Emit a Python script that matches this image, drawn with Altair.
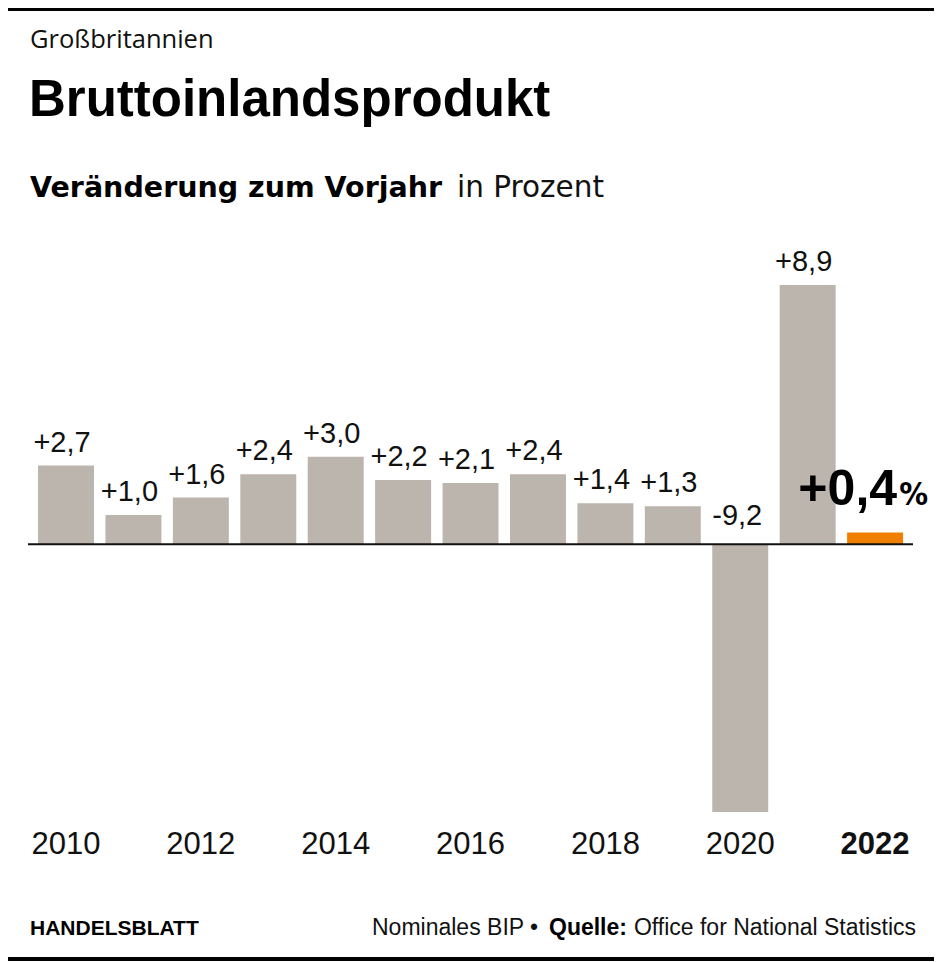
import altair as alt
import pandas as pd

# ---------------- data ----------------
years = ["2010", "2011", "2012", "2013", "2014", "2015", "2016",
         "2017", "2018", "2019", "2020", "2021", "2022"]
values = [2.7, 1.0, 1.6, 2.4, 3.0, 2.2, 2.1, 2.4, 1.4, 1.3, -9.2, 8.9, 0.4]
highlight_year = "2022"

kicker = "Großbritannien"
title = "Bruttoinlandsprodukt"
subtitle_bold = "Veränderung zum Vorjahr"
subtitle_regular = "in Prozent"
footer_left = "HANDELSBLATT"
footer_note = "Nominales BIP •"
footer_source_label = "Quelle:"
footer_source = "Office for National Statistics"
percent_sign = "%"

# ---------------- style ----------------
GREY = "#bcb5ae"
ORANGE = "#f07f00"
INK = "#111111"
SANS = "Liberation Sans, Arial, sans-serif"
COND = "DejaVu Sans Condensed, DejaVu Sans, sans-serif"
OPEN = "Open Sans, Liberation Sans, sans-serif"
DEJA = "DejaVu Sans, sans-serif"

W, H = 926, 954

df = pd.DataFrame({"year": years, "value": values})
one = pd.DataFrame({"k": [0]})

x_scale = alt.Scale(domain=years, range=[24.3, 900.8], paddingInner=0.17,
                    paddingOuter=0.085, round=False)
y_scale = alt.Scale(domain=[-9.2, 8.9], range=[804, 277], nice=False, zero=False, round=False)

x_axis = alt.Axis(
    title=None, domain=False, ticks=False, tickSize=0, grid=False,
    labelPadding=0, offset=-108.3, labelBaseline="alphabetic", labelAngle=0,
    labelFont=SANS, labelFontSize=31, labelColor=INK, labelOverlap=False,
    labelExpr="toNumber(datum.value) % 2 == 0 ? datum.value : ''",
    labelFontWeight={"condition": {"test": "datum.value == '2022'", "value": "bold"}, "value": "normal"},
)
x_enc = alt.X("year:N", scale=x_scale, axis=x_axis, sort=years)
y_enc = alt.Y("value:Q", scale=y_scale, axis=None)

base = alt.Chart(df).transform_calculate(
    lab="(datum.value > 0 ? '+' : '-') + replace(format(abs(datum.value), '.1f'), '.', ',')"
)

bars = base.mark_bar().encode(
    x=x_enc,
    y=y_enc,
    y2=alt.datum(0),
    color=alt.condition(alt.datum.year == highlight_year, alt.value(ORANGE), alt.value(GREY)),
)

zero_line = alt.Chart(pd.DataFrame({"value": [0]})).mark_rule(color=INK, strokeWidth=2).encode(
    y=y_enc, x=alt.value(20), x2=alt.value(905)
)

pos_labels = base.transform_filter(
    (alt.datum.value > 0) & (alt.datum.year != highlight_year)
).mark_text(font=SANS, fontSize=29, color=INK, baseline="alphabetic", dx=-4, dy=-14).encode(
    x=x_enc, y=y_enc, text="lab:N"
)

neg_labels = base.transform_filter(alt.datum.value < 0).transform_calculate(
    zero="0"
).mark_text(font=SANS, fontSize=29, color=INK, baseline="alphabetic", dx=-3, dy=-19).encode(
    x=x_enc, y=alt.Y("zero:Q", scale=y_scale, axis=None), text="lab:N"
)

big_label = base.transform_filter(alt.datum.year == highlight_year).mark_text(
    font=SANS, fontSize=50, fontWeight="bold", color="black", align="right",
    baseline="alphabetic", dx=22, dy=-27
).encode(x=x_enc, y=y_enc, text="lab:N")

big_pct = base.transform_filter(alt.datum.year == highlight_year).mark_text(
    font=COND, fontSize=32, fontWeight="bold", color="black", align="right",
    baseline="alphabetic", dx=53, dy=-27
).encode(x=x_enc, y=y_enc, text=alt.value(percent_sign))


def txt(s, x, y, font, size, weight="normal", align="left", color=INK):
    return alt.Chart(one).mark_text(
        font=font, fontSize=size, fontWeight=weight, align=align, baseline="alphabetic", color=color
    ).encode(x=alt.value(x), y=alt.value(y), text=alt.value(s))


def hline(y, w):
    return alt.Chart(one).mark_rule(color="black", strokeWidth=w).encode(
        x=alt.value(0), x2=alt.value(W), y=alt.value(y)
    )


header = [
    txt(kicker, 22, 40, OPEN, 25.5),
    txt(title, 21, 108, SANS, 51, "bold", color="black"),
    txt(subtitle_bold, 22, 189, DEJA, 28.5, "bold", color="black"),
    txt(subtitle_regular, 596, 189, DEJA, 29.5, align="right"),
]
footer = [
    txt(footer_left, 22, 927, SANS, 21, "bold", color="black"),
    txt(footer_note, 364, 927, SANS, 23),
    txt(footer_source_label, 541, 927, SANS, 23, "bold", color="black"),
    txt(footer_source, 908, 927, SANS, 23, align="right"),
]

chart = alt.layer(
    bars, zero_line, pos_labels, neg_labels, big_label, big_pct,
    *header, *footer, hline(1.5, 3), hline(951, 4),
).properties(
    width=W, height=H, autosize=alt.AutoSizeParams(type="none"), padding=0,
    background="white",
).configure_view(stroke=None)

chart.save("out.html", embed_options={"renderer": "svg", "actions": False})
